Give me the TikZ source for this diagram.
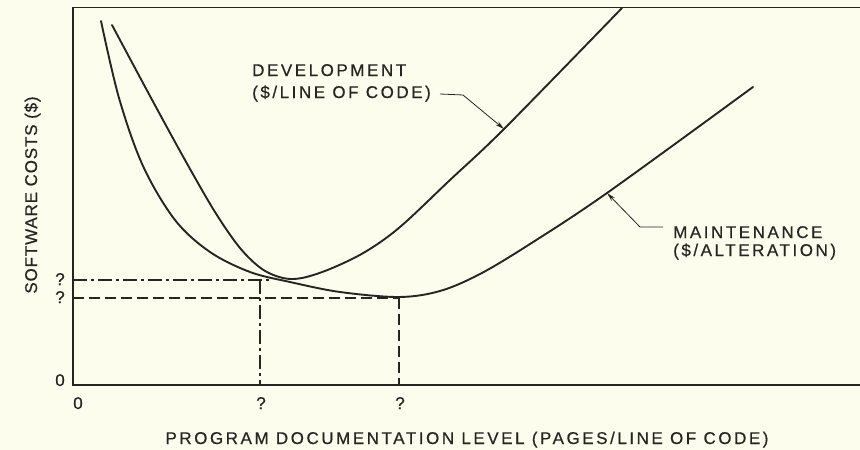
\documentclass[tikz,border=0pt]{standalone}
\usepackage{fontspec}
\setmainfont{Liberation Sans}[LetterSpace=15, FakeBold=0.5]
\newfontfamily\narrowlbl{Liberation Sans}[LetterSpace=5, FakeBold=0.5]
\usetikzlibrary{arrows.meta}

\definecolor{paper}{RGB}{253,253,238}
\definecolor{ink}{RGB}{40,36,34}

\begin{document}
\begin{tikzpicture}[x=1pt,y=-1pt,
  curve/.style={ink, line width=1.9pt, line cap=round, line join=round},
  axisline/.style={ink, line width=1.1pt},
  guide/.style={ink, line width=1.1pt, dash pattern=on 11pt off 5pt},
  guidedot/.style={ink, line width=1.1pt, dash pattern=on 14pt off 4pt on 3pt off 4pt},
  leader/.style={ink, line width=0.8pt, -{Stealth[length=9pt,width=4.5pt]}},
  lbl/.style={font=\fontsize{17}{20}\selectfont, text=ink, inner sep=0pt},
]
% paper and picture size
\fill[paper] (0,0) rectangle (860,450);
\useasboundingbox (0,0) rectangle (860,450);

% frame and axes
\coordinate (tl) at (73,7);
\coordinate (tr) at (860,7);
\coordinate (org) at (73,385);
\coordinate (xend) at (860,385);
\draw[axisline, line width=0.9pt] (tr) -- (tl);
\draw[axisline] (tl) -- (org) -- (xend);

% guide lines to the two minima
\coordinate (ydev) at (73,280);
\coordinate (devmin) at (270,280);
\coordinate (xdevtop) at (260,280);
\coordinate (xdev) at (260,385);
\coordinate (ymnt) at (73,298);
\coordinate (mntmin) at (399,298);
\coordinate (xmnt) at (399,385);
\draw[guidedot] (ydev) -- (devmin);
\draw[guidedot] (xdevtop) -- (xdev);
\draw[guide] (ymnt) -- (mntmin);
\draw[guide] (mntmin) -- (xmnt);

% development cost curve
\draw[curve] plot[smooth, tension=0.55] coordinates {
  (112,25) (150,96) (185,160) (215,212) (240,248) (262,269) (283,278)
  (302,278) (330,269) (365,252) (400,227) (450,180) (505,128) (622,8)};

% maintenance cost curve
\draw[curve] plot[smooth, tension=0.55] coordinates {
  (101,21) (119,98) (143,166) (175,220) (210,252) (250,272) (290,282)
  (340,292) (399,297) (440,291) (480,274) (530,244) (607,193) (753,87)};

% tick labels
\node[lbl, anchor=base] (y0) at (60,386) {0};
\node[lbl, anchor=base] (yq1) at (60,285) {?};
\node[lbl, anchor=base] (yq2) at (60,303) {?};
\node[lbl, anchor=base] (x0) at (78,409) {0};
\node[lbl, anchor=base] (xq1) at (261,409) {?};
\node[lbl, anchor=base] (xq2) at (400,409) {?};

% axis titles
\node[lbl, anchor=base] (xtitle) at (467,444)
  {PROGRAM DOCUMENTATION LEVEL (PAGES/LINE OF CODE)};
\node[lbl, anchor=base, rotate=90] (ytitle) at (37,195)
  {\narrowlbl SOFTWARE COSTS (\$)};

% curve labels with leaders
\node[lbl, anchor=base west] (deva) at (252,76) {DEVELOPMENT};
\node[lbl, anchor=base west] (devb) at (252,98) {(\$/LINE OF CODE)};
\node[lbl, anchor=base west] (mnta) at (673,238) {MAINTENANCE};
\node[lbl, anchor=base west] (mntb) at (673,256) {(\$/ALTERATION)};

\coordinate (devstart) at (440,94);
\coordinate (devbend) at (463,95);
\coordinate (devtip) at (504,129);
\draw[leader] (devstart) -- (devbend) -- (devtip);

\coordinate (mntstart) at (663,227);
\coordinate (mntbend) at (640,227);
\coordinate (mnttip) at (607,193);
\draw[leader] (mntstart) -- (mntbend) -- (mnttip);
\end{tikzpicture}
\end{document}
